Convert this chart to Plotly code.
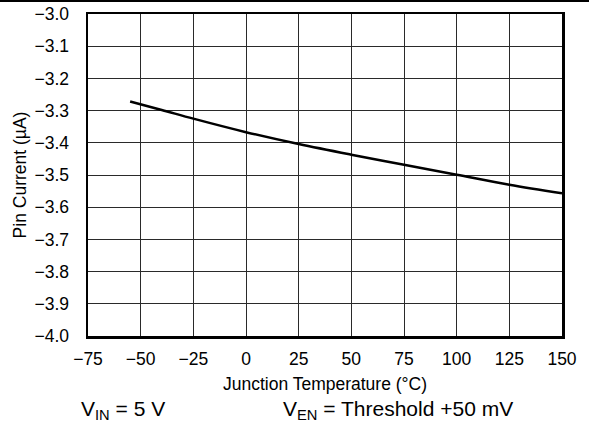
import plotly.graph_objects as go

# Data
temperature_c = [-55, -40, -25, 0, 25, 50, 75, 100, 125, 150]
pin_current_ua = [-3.272, -3.298, -3.325, -3.367, -3.404, -3.437, -3.468, -3.499, -3.530, -3.557]

x_ticks = [-75, -50, -25, 0, 25, 50, 75, 100, 125, 150]
x_tick_text = ["\u221275", "\u221250", "\u221225", "0", "25", "50", "75", "100", "125", "150"]
y_ticks = [-3.0, -3.1, -3.2, -3.3, -3.4, -3.5, -3.6, -3.7, -3.8, -3.9, -4.0]
y_tick_text = ["\u2212%.1f" % abs(v) for v in y_ticks]

FONT = "Liberation Sans, Arial, sans-serif"

fig = go.Figure()
fig.add_trace(go.Scatter(
    x=temperature_c, y=pin_current_ua, mode="lines",
    line=dict(color="black", width=2.5, shape="spline"),
    showlegend=False, hoverinfo="skip",
))

L, R, T, B = 88, 27, 14, 94
W, H = 589, 430
pw, ph = W - L - R, H - T - B

fig.update_layout(
    template="none",
    width=W, height=H,
    margin=dict(l=L, r=R, t=T, b=B, pad=0, autoexpand=False),
    paper_bgcolor="white", plot_bgcolor="white",
    font=dict(family=FONT, color="black", size=17.5),
    xaxis=dict(
        range=[-75, 150], tickvals=x_ticks, ticktext=x_tick_text,
        automargin=False,
        showgrid=True, gridcolor="#2a2a2a", gridwidth=1,
        showline=True, linecolor="black", linewidth=2.5, mirror=True,
        ticks="", zeroline=False, tickfont=dict(size=17.5),
        ticklabelstandoff=5,
        title=dict(text="Junction Temperature (°C)", font=dict(size=17.5), standoff=10),
    ),
    yaxis=dict(
        range=[-4.0, -3.0], tickvals=y_ticks, ticktext=y_tick_text,
        automargin=False,
        showgrid=True, gridcolor="#2a2a2a", gridwidth=1,
        showline=True, linecolor="black", linewidth=2.5, mirror=True,
        ticks="", zeroline=False, tickfont=dict(size=17.5),
        ticklabelstandoff=13,
        title=dict(text="Pin Current (µA)", font=dict(size=17.5), standoff=4),
    ),
    shapes=[dict(
        type="line", xref="paper", yref="paper",
        x0=-L / pw, x1=(W - L) / pw,
        y0=1 + (T - 1) / ph, y1=1 + (T - 1) / ph,
        line=dict(color="black", width=2),
    )],
    annotations=[
        dict(text="V<sub>IN</sub> = 5 V", xref="paper", yref="paper",
             x=(79 - L) / pw, y=-(410 - (T + ph)) / ph,
             xanchor="left", yanchor="middle", showarrow=False,
             font=dict(size=21)),
        dict(text="V<sub>EN</sub> = Threshold +50 mV", xref="paper", yref="paper",
             x=(281 - L) / pw, y=-(410 - (T + ph)) / ph,
             xanchor="left", yanchor="middle", showarrow=False,
             font=dict(size=21)),
    ],
)

fig.write_html(
    "out.html",
    config={"displayModeBar": False, "staticPlot": True},
    post_script="document.body.style.margin='0';document.body.style.overflow='hidden';",
)
